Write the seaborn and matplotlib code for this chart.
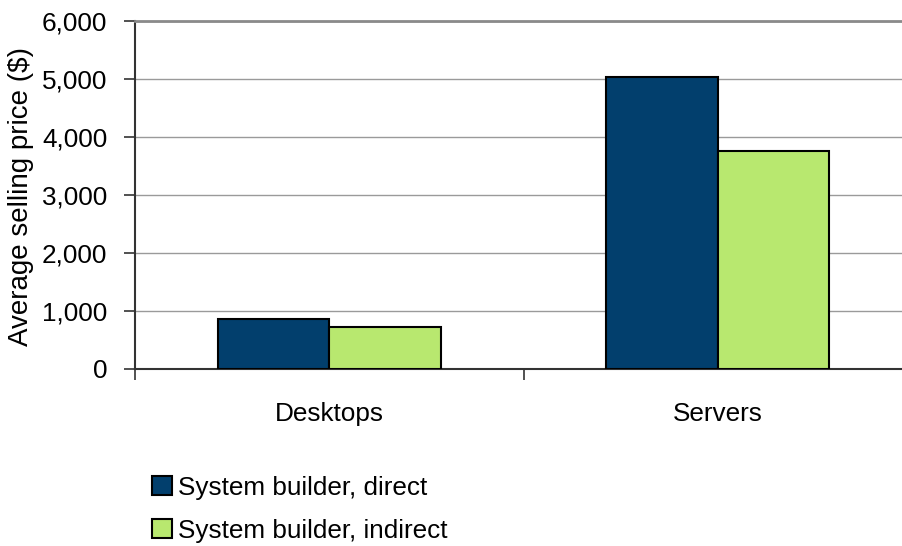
import matplotlib
matplotlib.use("Agg")
import matplotlib.pyplot as plt
import seaborn as sns
import pandas as pd
from matplotlib.patches import Patch
from matplotlib.ticker import FuncFormatter, FixedLocator

categories = ["Desktops", "Servers"]
series = ["System builder, direct", "System builder, indirect"]
direct_values = [853, 5030]
indirect_values = [715, 3750]
colors = ["#023F6D", "#B8E86F"]

rows = []
for c, d, i in zip(categories, direct_values, indirect_values):
    rows.append({"category": c, "series": series[0], "value": d})
    rows.append({"category": c, "series": series[1], "value": i})
df = pd.DataFrame(rows)

sns.set_theme(style="white")
plt.rcParams["font.family"] = ["Liberation Sans", "DejaVu Sans"]
plt.rcParams["text.color"] = "black"
plt.rcParams["axes.labelcolor"] = "black"
plt.rcParams["xtick.color"] = "black"
plt.rcParams["ytick.color"] = "black"
FS = 18.8

fig = plt.figure(figsize=(9.03, 5.46), dpi=100)
W, H = 903, 546
left, right, top, bottom = 135, 912, 20.5, 368.5
ax = fig.add_axes([left / W, 1 - bottom / H, (right - left) / W, (bottom - top) / H])

sns.barplot(data=df, x="category", y="value", hue="series", order=categories,
            hue_order=series, palette=colors, saturation=1, width=0.574, gap=0,
            edgecolor="black", linewidth=1.5, ax=ax, legend=False, zorder=3)

ax.set_xlim(-0.5, 1.5)
ax.set_ylim(0, 6000)
ax.set_yticks(range(0, 6001, 1000))
ax.yaxis.set_major_formatter(FuncFormatter(lambda v, p: f"{int(v):,}"))
ax.grid(axis="y", color="#9a9a9a", linewidth=1.0, zorder=0)
ax.grid(axis="x", visible=False)

ax.spines["right"].set_visible(False)
ax.spines["top"].set_color("#8a8a8a")
ax.spines["top"].set_linewidth(2)
ax.spines["left"].set_color("#333333")
ax.spines["left"].set_linewidth(1.5)
ax.spines["bottom"].set_color("#333333")
ax.spines["bottom"].set_linewidth(1.5)

ax.tick_params(axis="y", which="major", direction="out", length=8, width=1.2,
               color="#333333", labelsize=FS, pad=12, left=True)
ax.tick_params(axis="x", which="major", length=0, labelsize=FS, pad=24)
ax.xaxis.set_minor_locator(FixedLocator([-0.5, 0.5, 1.5]))
ax.tick_params(axis="x", which="minor", direction="out", length=8, width=1.2,
               color="#333333", bottom=True)
ax.set_xlabel("")
ax.set_ylabel("Average selling price ($)", fontsize=20)
ax.yaxis.set_label_coords(-(135 - 34) / (right - left), 0.495)

handles = [Patch(facecolor=colors[0], edgecolor="black", linewidth=1.5),
           Patch(facecolor=colors[1], edgecolor="black", linewidth=1.5)]
fig.legend(handles, series, loc="upper left",
           bbox_to_anchor=(152 / W, 1 - 476 / H), frameon=False,
           fontsize=FS, handlelength=0.75, handleheight=0.75, handletextpad=0.25,
           labelspacing=0.72, borderpad=0, borderaxespad=0)

fig.savefig("out.png", dpi=100)
